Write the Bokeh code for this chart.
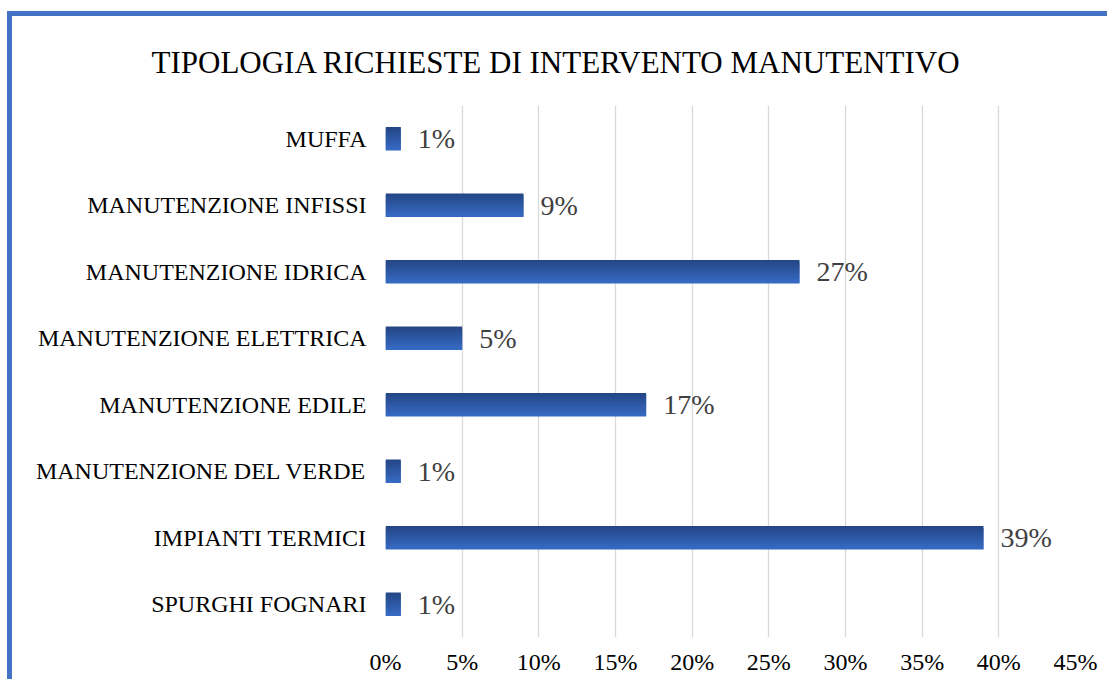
from bokeh.plotting import figure
from bokeh.models import ColumnDataSource, FactorRange, Range1d, FixedTicker
from bokeh.transform import dodge
from bokeh.core.properties import value
from bokeh.embed import file_html
from bokeh.resources import INLINE

# ---- data ----
categories = [
    "SPURGHI FOGNARI",
    "IMPIANTI TERMICI",
    "MANUTENZIONE DEL VERDE",
    "MANUTENZIONE EDILE",
    "MANUTENZIONE ELETTRICA",
    "MANUTENZIONE IDRICA",
    "MANUTENZIONE INFISSI",
    "MUFFA",
]
percentages = [1, 39, 1, 17, 5, 27, 9, 1]
value_labels = ["1%", "39%", "1%", "17%", "5%", "27%", "9%", "1%"]
tick_values = [0, 5, 10, 15, 20, 25, 30, 35, 40, 45]
tick_labels = ["0%", "5%", "10%", "15%", "20%", "25%", "30%", "35%", "40%", "45%"]
title_text = "TIPOLOGIA   RICHIESTE  DI INTERVENTO  MANUTENTIVO"

FONT = "Liberation Serif"
BORDER_BLUE = "#4472C4"
W, H = 1100, 668

source = ColumnDataSource(dict(cat=categories, val=percentages, lab=value_labels))

p = figure(
    width=W, height=H,
    y_range=FactorRange(factors=categories, range_padding=0),
    x_range=Range1d(0, 45),
    output_backend="svg", toolbar_location=None,
    min_border_left=373, min_border_right=37,
    min_border_top=89, min_border_bottom=47,
    title=title_text,
)
p.styles = {
    "margin-left": "7px",
    "margin-top": "11px",
    "border-left": f"5px solid {BORDER_BLUE}",
    "border-top": f"5px solid {BORDER_BLUE}",
}

p.background_fill_color = "white"
p.border_fill_color = "white"
p.outline_line_color = None

# title
p.title.text_font = FONT
p.title.text_font_size = "31px"
p.title.text_font_style = "normal"
p.title.text_color = "#000000"
p.title.align = "left"
p.title.offset = -234
p.title.standoff = 51

# grids
p.ygrid.grid_line_color = None
p.xgrid.grid_line_color = "#D9D9D9"
p.xgrid.grid_line_width = 1.3
p.xaxis.ticker = FixedTicker(ticks=tick_values)

# x axis
p.xaxis.axis_line_color = None
p.xaxis.major_tick_line_color = None
p.xaxis.minor_tick_line_color = None
p.xaxis.major_label_overrides = {t: l for t, l in zip(tick_values, tick_labels)}
p.xaxis.major_label_text_font = FONT
p.xaxis.major_label_text_font_size = "24px"
p.xaxis.major_label_text_color = "#000000"
p.xaxis.major_label_standoff = 5

# y axis
p.yaxis.axis_line_color = None
p.yaxis.major_tick_line_color = None
p.yaxis.minor_tick_line_color = None
p.yaxis.major_label_text_font = FONT
p.yaxis.major_label_text_font_size = "24px"
p.yaxis.major_label_text_color = "#000000"
p.yaxis.major_label_standoff = 13

# bars with a vertical gradient (dark top -> lighter bottom)
bar_h = 0.35
n = 12
top_c = (0x25, 0x47, 0x88)
bot_c = (0x36, 0x6A, 0xC2)
for i in range(n):
    t = i / (n - 1)
    c = tuple(int(round(top_c[k] + (bot_c[k] - top_c[k]) * t)) for k in range(3))
    color = "#%02x%02x%02x" % c
    sh = bar_h / n
    hh = sh * 1.8 if i < n - 1 else sh
    off = bar_h / 2 - i * sh - hh / 2
    p.hbar(y=dodge("cat", off, range=p.y_range), left=0, right="val",
           height=hh, source=source,
           fill_color=color, line_color=None)

# value labels
p.text(x="val", y="cat", text="lab", source=source,
       x_offset=17, text_baseline="middle", text_align="left",
       text_font=value(FONT), text_font_size="28px", text_color="#404040")

open("out.html", "w").write(file_html(p, INLINE))
